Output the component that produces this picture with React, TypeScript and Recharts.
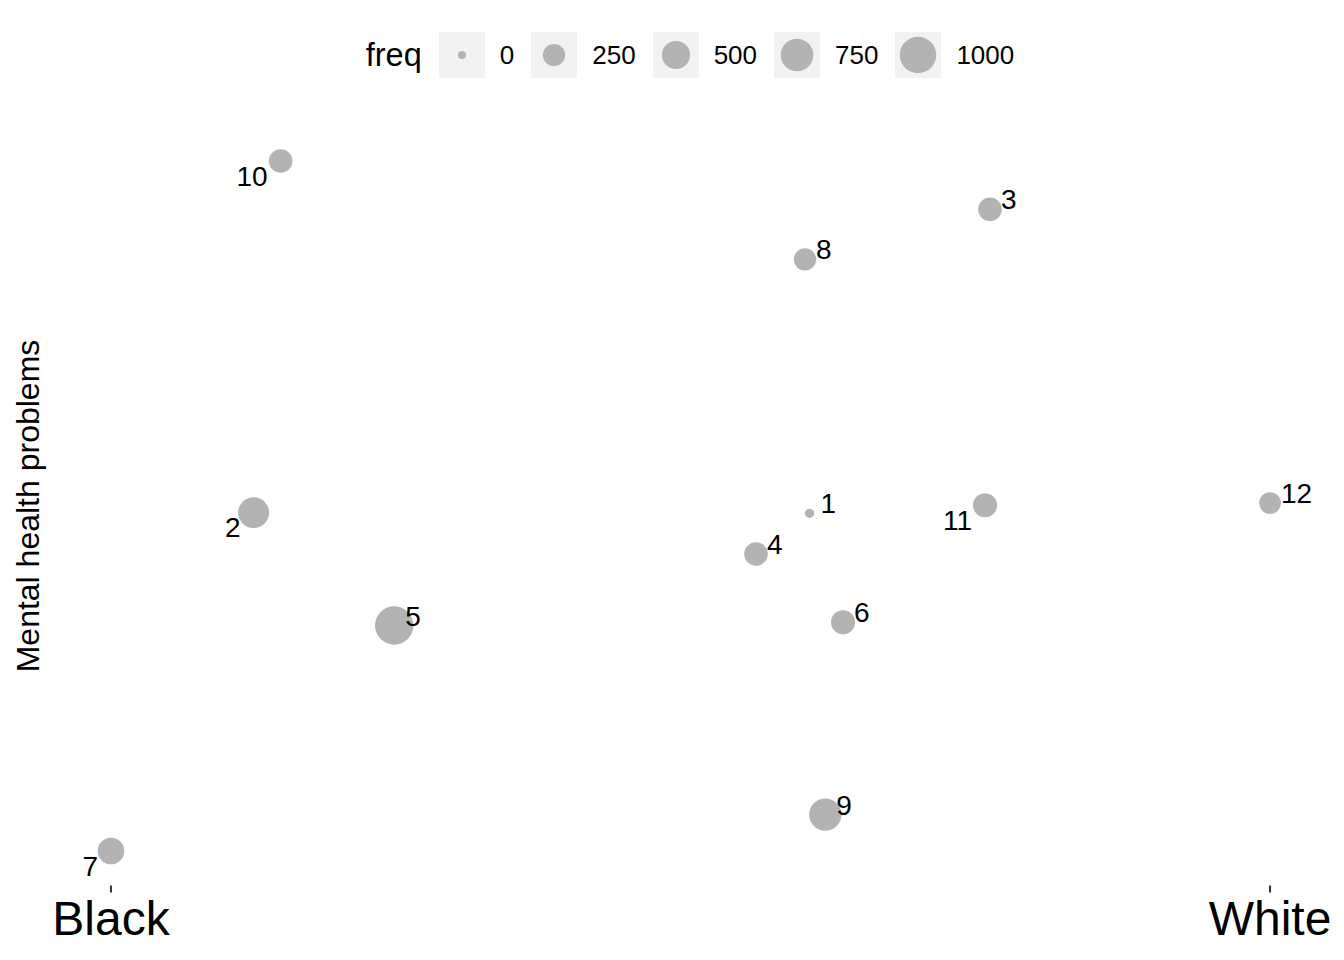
import { ScatterChart, Scatter, XAxis, YAxis, Legend } from "recharts";

// values (x: Black=0 .. White=1, y: normalised)
const pointIds = ["1", "2", "3", "4", "5", "6", "7", "8", "9", "10", "11", "12"];
const xValues = [0.6027, 0.1231, 0.7584, 0.5565, 0.2444, 0.6316, 0.0, 0.5988, 0.6163, 0.1464, 0.7541, 1.0];
const yValues = [0.4894, 0.4904, 0.93, 0.4304, 0.3268, 0.3314, 0.0, 0.8575, 0.0528, 1.0, 0.501, 0.5043];
const freqValues = [2, 650, 300, 300, 1140, 320, 425, 250, 730, 300, 320, 230];

const xTicks = [0, 1];
const xTickLabels = ["Black", "White"];
const legendBreaks = [0, 250, 500, 750, 1000];

// which side of the point each label sits on
const labelSide: Record<string, "ur" | "dl"> = {
  "1": "ur", "2": "dl", "3": "ur", "4": "ur", "5": "ur", "6": "ur",
  "7": "dl", "8": "ur", "9": "ur", "10": "dl", "11": "dl", "12": "ur",
};

const FONT = '"Liberation Sans", Arial, Helvetica, sans-serif';
const POINT = "#B3B3B3";
const R_MIN = 4;
const R_MAX = 18.25;
const FREQ_MAX = 1000;

// ggplot-style size scale: radius grows with sqrt of value
const radiusFor = (f: number) => R_MIN + (R_MAX - R_MIN) * Math.sqrt(Math.max(f, 0) / FREQ_MAX);

const data = pointIds.map((id, i) => ({ id, x: xValues[i], y: yValues[i], freq: freqValues[i] }));

if (typeof document !== "undefined") document.body.style.margin = "0";

const Dot = (props: any) => {
  const { cx, cy, payload } = props;
  return <circle cx={cx} cy={cy} r={radiusFor(payload.freq)} fill={POINT} />;
};

const PointLabel = (props: any) => {
  const { cx, cy, payload } = props;
  const side = labelSide[payload.id];
  if (side === "dl") {
    return (
      <text x={cx - 13} y={cy + 24.5} textAnchor="end" fontSize={28} fontFamily={FONT} fill="#000">
        {payload.id}
      </text>
    );
  }
  return (
    <text x={cx + 11} y={cy} textAnchor="start" fontSize={28} fontFamily={FONT} fill="#000">
      {payload.id}
    </text>
  );
};

const XTick = (props: any) => {
  const { x, y, payload } = props;
  const idx = xTicks.indexOf(payload.value);
  return (
    <text x={x} y={y} dy="0.71em" textAnchor="middle" fontSize={48} fontFamily={FONT} fill="#000">
      {xTickLabels[idx]}
    </text>
  );
};

const SizeLegend = () => (
  <div style={{ display: "flex", alignItems: "center", justifyContent: "center", fontFamily: FONT, height: 46 }}>
    <span style={{ fontSize: 32.5, marginRight: 17 }}>freq</span>
    {legendBreaks.map((b) => {
      const r = radiusFor(b);
      return (
        <div key={b} style={{ display: "flex", alignItems: "center" }}>
          <svg width={46} height={46} style={{ display: "block" }}>
            <rect width={46} height={46} fill="#F2F2F2" />
            <circle cx={23} cy={23} r={r} fill={POINT} />
          </svg>
          <span style={{ fontSize: 26, marginLeft: 15, marginRight: 17 }}>{b}</span>
        </div>
      );
    })}
  </div>
);

export default function App() {
  return (
    <div style={{ width: 1344, height: 960, background: "#fff" }}>
      <ScatterChart width={1344} height={960} margin={{ top: 126.5, right: 16, bottom: 0, left: 0 }}>
        <XAxis
          type="number"
          dataKey="x"
          domain={[-0.05, 1.05]}
          ticks={xTicks}
          allowDataOverflow
          axisLine={false}
          tickLine={{ stroke: "#333333", strokeWidth: 2 }}
          tickSize={7}
          tickMargin={8}
          height={74.5}
          tick={<XTick />}
        />
        <YAxis
          type="number"
          dataKey="y"
          domain={[-0.05, 1.05]}
          allowDataOverflow
          tick={false}
          axisLine={false}
          tickLine={false}
          width={53}
          label={({ viewBox }: any) => {
            const cy = viewBox.y + viewBox.height / 2;
            return (
              <text
                x={39}
                y={cy}
                transform={`rotate(-90, 39, ${cy})`}
                textAnchor="middle"
                fontSize={32}
                fontFamily={FONT}
                fill="#000"
              >
                Mental health problems
              </text>
            );
          }}
        />
        <Legend
          verticalAlign="middle"
          align="center"
          layout="horizontal"
          wrapperStyle={{ top: 32, left: 61, width: 1275 }}
          content={() => <SizeLegend />}
        />
        <Scatter data={data} shape={<Dot />} isAnimationActive={false} />
        <Scatter data={data} shape={<PointLabel />} isAnimationActive={false} legendType="none" />
      </ScatterChart>
    </div>
  );
}
